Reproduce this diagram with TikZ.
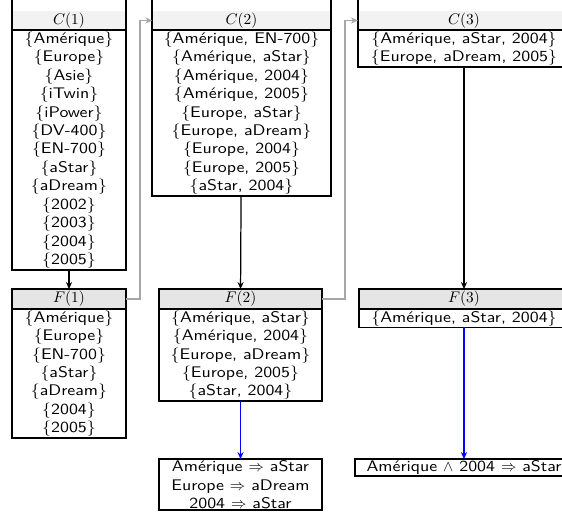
\documentclass[tikz,border=0pt]{standalone}
\usepackage{fontspec}
\setsansfont{lmsans10-regular.otf}[FakeStretch=1.16]
\usetikzlibrary{positioning,arrows.meta}
\begin{document}
\begin{tikzpicture}[x=0.65pt,y=-0.65pt,font=\sffamily,
    frame/.style={draw=black,line width=1.2pt},
    hdrC/.style={fill=gray!10,minimum height=12.5pt,inner sep=0pt,outer sep=0pt},
    hdrF/.style={frame,fill=gray!20,minimum height=13pt,inner sep=0pt,outer sep=0pt},
    body/.style={frame,align=center,inner xsep=0pt,inner ysep=1pt,outer sep=0pt},
    down/.style={draw=black,line width=0.8pt,-{Stealth[length=4.5pt,width=4pt]}},
    rulelink/.style={draw=blue,line width=0.8pt,-{Stealth[length=4.5pt,width=4pt]}},
    feed/.style={draw=gray!70,line width=0.8pt,-{Stealth[length=4.5pt,width=4pt]}}]
    \useasboundingbox (0,0) rectangle (562,513);
    \clip (0,0) rectangle (562,513);
    \node [hdrC,minimum width=74pt] (c1h) at (69,20.5) {$C(1)$};
    \node [body,minimum width=74pt,below=0pt of c1h] (c1b) {\{Amérique\}\\\{Europe\}\\\{Asie\}\\\{iTwin\}\\\{iPower\}\\\{DV-400\}\\\{EN-700\}\\\{aStar\}\\\{aDream\}\\\{2002\}\\\{2003\}\\\{2004\}\\\{2005\}};
    \node [hdrC,minimum width=116pt] (c2h) at (241.5,20.5) {$C(2)$};
    \node [body,minimum width=116pt,below=0pt of c2h] (c2b) {\{Amérique, EN-700\}\\\{Amérique, aStar\}\\\{Amérique, 2004\}\\\{Amérique, 2005\}\\\{Europe, aStar\}\\\{Europe, aDream\}\\\{Europe, 2004\}\\\{Europe, 2005\}\\\{aStar, 2004\}};
    \node [hdrC,minimum width=138pt] (c3h) at (464,20.5) {$C(3)$};
    \node [body,minimum width=138pt,below=0pt of c3h] (c3b) {\{Amérique, aStar, 2004\}\\\{Europe, aDream, 2005\}};
    \draw [frame] (c1b.north west) -- ++(0,-40) (c1b.north east) -- ++(0,-40);
    \draw [frame] (c2b.north west) -- ++(0,-40) (c2b.north east) -- ++(0,-40);
    \draw [frame] (c3b.north west) -- ++(0,-40) (c3b.north east) -- ++(0,-40);
    \node [hdrF,minimum width=74pt] (f1h) at (69,299) {$F(1)$};
    \node [body,minimum width=74pt,below=0pt of f1h] (f1b) {\{Amérique\}\\\{Europe\}\\\{EN-700\}\\\{aStar\}\\\{aDream\}\\\{2004\}\\\{2005\}};
    \node [hdrF,minimum width=106pt] (f2h) at (240.5,299) {$F(2)$};
    \node [body,minimum width=106pt,below=0pt of f2h] (f2b) {\{Amérique, aStar\}\\\{Amérique, 2004\}\\\{Europe, aDream\}\\\{Europe, 2005\}\\\{aStar, 2004\}};
    \node [hdrF,minimum width=137pt] (f3h) at (464,299) {$F(3)$};
    \node [body,minimum width=137pt,below=0pt of f3h] (f3b) {\{Amérique, aStar, 2004\}};
    \node [body,minimum width=106pt,anchor=north] (r2) at (240.5,459) {Amérique $\Rightarrow$ aStar\\Europe $\Rightarrow$ aDream\\2004 $\Rightarrow$ aStar};
    \node [body,minimum width=142pt,anchor=north] (r3) at (464,459) {Amérique $\wedge$ 2004 $\Rightarrow$ aStar};
    \draw [down] (c1b) -- (f1h);
    \draw [down] (c2b) -- (f2h);
    \draw [down] (c3b) -- (f3h);
    \draw [feed] (f1h.east) -- ++(14,0) |- (c2h.west);
    \draw [feed] (f2h.east) -- ++(23,0) |- (c3h.west);
    \draw [rulelink] (f2b) -- (r2);
    \draw [rulelink] (f3b) -- (r3);
\end{tikzpicture}
\end{document}
